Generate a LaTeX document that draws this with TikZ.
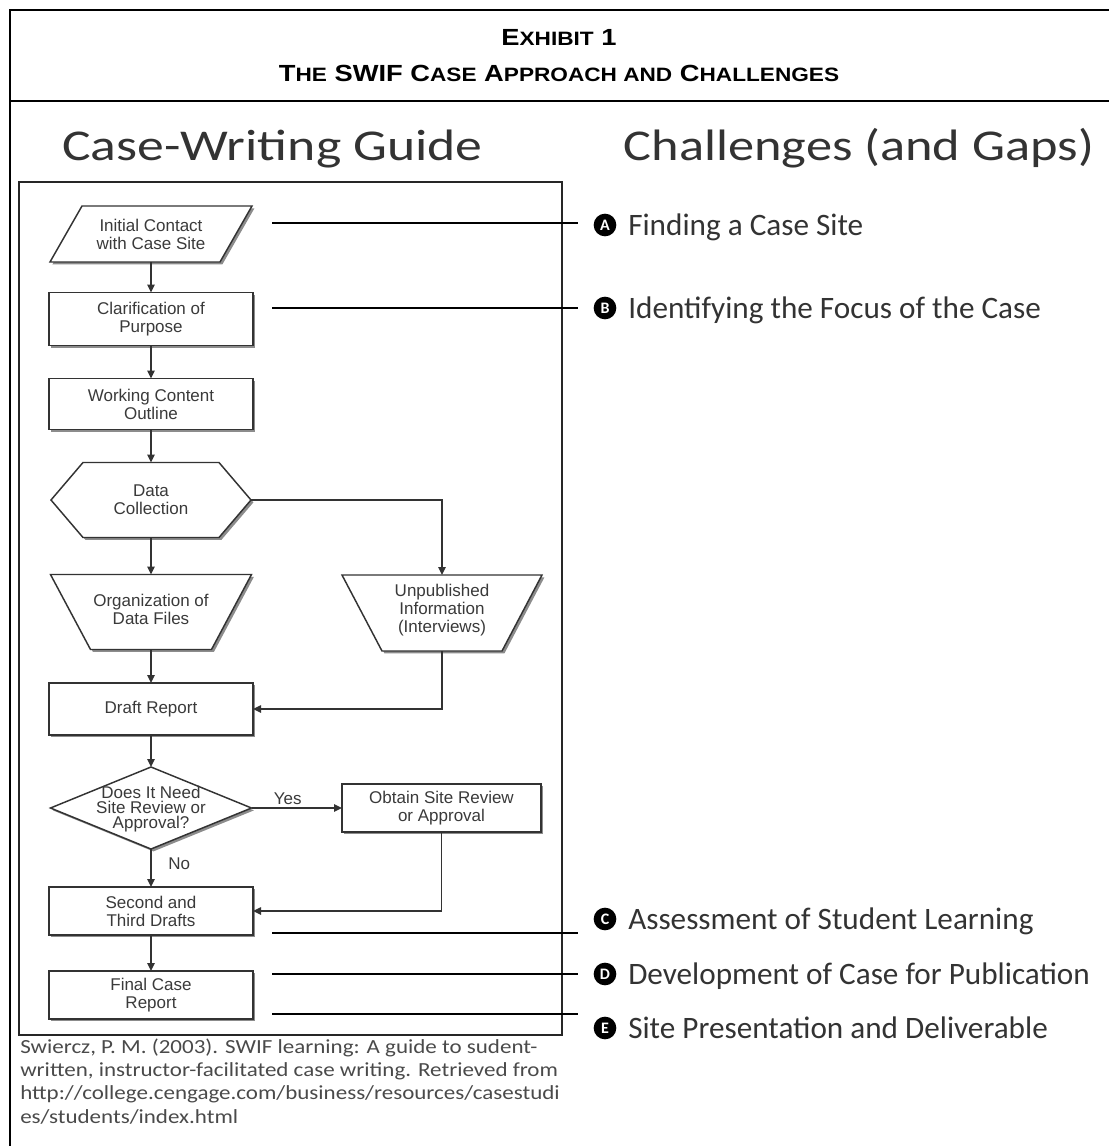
\documentclass[tikz,border=0pt]{standalone}
\usepackage{fontspec}
\setmainfont{Carlito}
\newfontfamily\arialf{Liberation Sans}
\usetikzlibrary{arrows.meta,shadows,calc}
\definecolor{ink}{HTML}{333333}
\definecolor{flowink}{HTML}{3A3A3A}
\definecolor{citeink}{HTML}{4A4A4A}
\newcommand\bigc[1]{{\fontsize{17.5pt}{19pt}\selectfont #1}}
\newcommand\smlc[1]{{\fontsize{14.5pt}{19pt}\selectfont #1}}
\tikzset{
  frameline/.style={line width=1.8pt, black},
  innerbox/.style={draw=black!85, line width=1.2pt},
  shp/.style={draw=black!80, line width=1.1pt, fill=white,
    general shadow={fill=black!45, shadow xshift=1.8pt, shadow yshift=-1.8pt}},
  anch/.style={inner sep=0pt, outer sep=0pt, draw=none},
  ftext/.style={font=\arialf\fontsize{12.75pt}{13.5pt}\selectfont, text=flowink, align=center},
  conn/.style={draw=black!80, line width=1.1pt},
  arr/.style={conn, -{Triangle[length=6pt,width=5.5pt]}},
  leader/.style={draw=black, line width=1.1pt},
  badge/.style={circle, fill=black, text=white, inner sep=0pt, minimum size=17pt,
    font=\bfseries\fontsize{12pt}{12pt}\selectfont},
  chal/.style={anchor=base west, inner sep=0pt, text=ink, font=\fontsize{23.4pt}{26pt}\selectfont},
  coltitle/.style={anchor=base, inner sep=0pt, text=ink, font=\fontsize{33pt}{38pt}\selectfont},
  citeline/.style={anchor=base west, inner sep=0pt, text=citeink, font=\fontsize{15pt}{17pt}\selectfont},
  hdr/.style={inner sep=0pt, text=black, font=\arialf\bfseries},
}
\begin{document}
\begin{tikzpicture}[x=0.75pt,y=-0.75pt]
\useasboundingbox (0,0) rectangle (1109,1146);
% outer frame
\draw[frameline] (1109,10) -- (10,10) -- (10,1146);
\draw[frameline] (10,101) -- (1109,101);
% header
\node[hdr] (h1) at (559,37) {\scalebox{1.17}[1]{\bigc{E}\smlc{XHIBIT}\bigc{ 1}}};
\node[hdr] (h2) at (559,73) {\scalebox{1.17}[1]{\bigc{T}\smlc{HE}\bigc{ SWIF C}\smlc{ASE}\bigc{ A}\smlc{PPROACH AND}\bigc{ C}\smlc{HALLENGES}}};
% column titles
\node[coltitle] (t1) at (272.5,160) {\scalebox{1.22}[1]{Case-Writing Guide}};
\node[coltitle] (t2) at (859,160) {\scalebox{1.19}[1]{Challenges (and Gaps)}};
% inner box
\draw[innerbox] (19,182) rectangle (562,1035);

% flowchart nodes (anchor boxes)
\node[anch, minimum width=151.5pt, minimum height=42pt] (para) at (151,234) {};
\draw[shp] ($(para.north west)+(32,0)$) -- (para.north east) -- ($(para.south east)+(-32,0)$) -- (para.south west) -- cycle;
\node[ftext] at (para) {Initial Contact\\with Case Site};

\node[shp, anch, draw=black!80, minimum width=153pt, minimum height=39.75pt, ftext] (clar) at (151,319) {Clarification of\\Purpose};
\node[shp, anch, draw=black!80, minimum width=153pt, minimum height=38.25pt, ftext] (work) at (151,404) {Working Content\\Outline};

\node[anch, minimum width=150pt, minimum height=56.25pt] (hex) at (151,500) {};
\draw[shp] (hex.west) -- ($(hex.north west)+(32,0)$) -- ($(hex.north east)+(-32,0)$) -- (hex.east) -- ($(hex.south east)+(-32,0)$) -- ($(hex.south west)+(32,0)$) -- cycle;
\node[ftext] at (hex) {Data\\Collection};

\node[anch, minimum width=150.75pt, minimum height=56.25pt] (org) at (151,612) {};
\draw[shp] (org.north west) -- (org.north east) -- ($(org.south east)+(-40,0)$) -- ($(org.south west)+(40,0)$) -- cycle;
\node[ftext] at ($(org)+(0,-3)$) {Organization of\\Data Files};

\node[anch, minimum width=150pt, minimum height=57pt] (unpub) at (442,613) {};
\draw[shp] (unpub.north west) -- (unpub.north east) -- ($(unpub.south east)+(-40,0)$) -- ($(unpub.south west)+(40,0)$) -- cycle;
\node[ftext] at ($(unpub)+(0,-3)$) {Unpublished\\Information\\(Interviews)};

\node[shp, anch, draw=black!80, minimum width=153pt, minimum height=39pt, ftext] (draft) at (151,709) {Draft Report};

\node[anch, minimum width=150.75pt, minimum height=61.5pt] (dia) at (151,808) {};
\draw[shp] (dia.north) -- (dia.east) -- (dia.south) -- (dia.west) -- cycle;
\node[ftext, font=\arialf\fontsize{12.75pt}{11.25pt}\selectfont] at ($(dia)+(0,1)$) {Does It Need\\Site Review or\\Approval?};

\node[shp, anch, draw=black!80, minimum width=149.25pt, minimum height=36pt, ftext] (obtain) at (441.5,808) {Obtain Site Review\\or Approval};
\node[shp, anch, draw=black!80, minimum width=153pt, minimum height=36pt, ftext] (second) at (151,911) {Second and\\Third Drafts};
\node[shp, anch, draw=black!80, minimum width=153pt, minimum height=36pt, ftext] (final) at (151,995) {Final Case\\Report};

% connectors
\draw[arr] (para.south) -- (clar.north);
\draw[arr] (clar.south) -- (work.north);
\draw[arr] (work.south) -- (hex.north);
\draw[arr] (hex.south) -- (org.north);
\draw[arr] (hex.east) -| (unpub.north);
\draw[arr] (org.south) -- (draft.north);
\draw[arr] (unpub.south) |- (draft.east);
\draw[arr] (draft.south) -- (dia.north);
\draw[arr] (dia.east) -- node[ftext, above, pos=0.4, inner sep=2pt] (yes) {Yes} (obtain.west);
\draw[arr] (dia.south) -- node[ftext, right, pos=0.4, inner sep=4pt, xshift=8.5pt] (no) {No} (second.north);
\draw[arr] (obtain.south) |- (second.east);
\draw[arr] (second.south) -- (final.north);

% leader lines
\coordinate (la1) at (272,223); \coordinate (la2) at (578,223);
\coordinate (lb1) at (272,308); \coordinate (lb2) at (578,308);
\coordinate (lc1) at (272,933); \coordinate (lc2) at (578,933);
\coordinate (ld1) at (272,974); \coordinate (ld2) at (578,974);
\coordinate (le1) at (272,1014); \coordinate (le2) at (578,1014);
\draw[leader] (la1) -- (la2);
\draw[leader] (lb1) -- (lb2);
\draw[leader] (lc1) -- (lc2);
\draw[leader] (ld1) -- (ld2);
\draw[leader] (le1) -- (le2);

% challenges
\node[badge] (ca) at (605,225) {A};
\node[badge] (cb) at (605,308) {B};
\node[badge] (cc) at (605,919) {C};
\node[badge] (cd) at (605,974) {D};
\node[badge] (ce) at (605,1028) {E};
\node[chal] (ta) at (628,235) {Finding a Case Site};
\node[chal] (tb) at (628,318) {Identifying the Focus of the Case};
\node[chal] (tc) at (628,929) {Assessment of Student Learning};
\node[chal] (td) at (628,984) {Development of Case for Publication};
\node[chal] (te) at (628,1038) {Site Presentation and Deliverable};

% citation
\node[citeline] (c1) at (20,1053) {\scalebox{1.15}[1]{Swiercz, P. M. (2003). SWIF learning: A guide to sudent-}};
\node[citeline] (c2) at (20,1076) {\scalebox{1.15}[1]{written, instructor-facilitated case writing. Retrieved from}};
\node[citeline] (c3) at (20,1099) {\scalebox{1.15}[1]{http://college.cengage.com/business/resources/casestudi}};
\node[citeline] (c4) at (20,1123) {\scalebox{1.15}[1]{es/students/index.html}};
\end{tikzpicture}
\end{document}
